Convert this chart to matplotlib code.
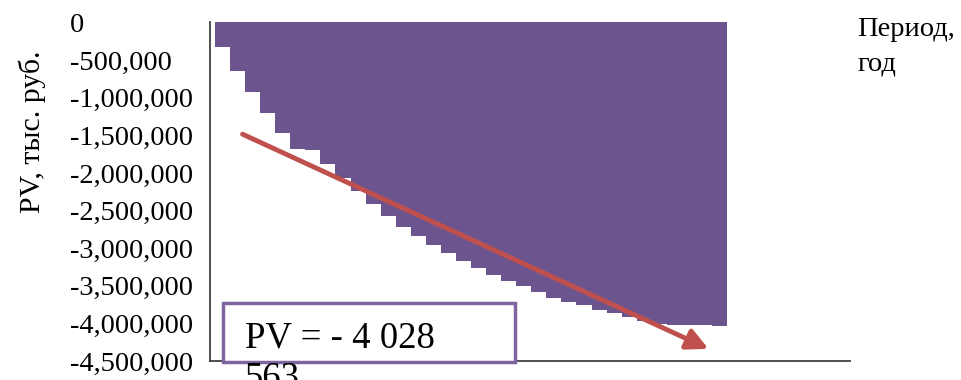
import matplotlib
matplotlib.use('Agg')
import matplotlib.pyplot as plt
from matplotlib.patches import Rectangle
import numpy as np

# cumulative PV by year
years = list(range(1, 35))
pv_values = [-320000, -650000, -927000, -1209000, -1464000, -1678000, -1691000,
             -1882000, -2067000, -2235000, -2411000, -2569000, -2715000, -2834000,
             -2962000, -3058000, -3173000, -3269000, -3358000, -3441000, -3507000,
             -3587000, -3657000, -3710000, -3762000, -3820000, -3864000, -3917000,
             -3970000, -4003000, -4015000, -4020000, -4025000, -4028563]
y_ticks = [0, -500000, -1000000, -1500000, -2000000, -2500000,
           -3000000, -3500000, -4000000, -4500000]
y_label = "PV, тыс. руб."
x_label_lines = ["Период,", "год"]
pv_text_lines = ["PV = - 4 028", "563"]

W, H = 961, 380
serif = 'Liberation Serif'
bar_color = '#6c558e'
arrow_color = '#c0504d'
box_color = '#8064a2'

fig = plt.figure(figsize=(W / 100, H / 100), dpi=100)
ax = fig.add_axes([210 / W, 1 - 361 / H, (850 - 210) / W, (361 - 22.5) / H])

x = np.arange(len(years))
ax.bar(x, pv_values, width=1.0, color=bar_color, linewidth=0, zorder=2)

ax.set_xlim(-0.83, 41.66)
ax.set_ylim(-4500000, 0)
ax.set_xticks([])
ax.set_yticks(y_ticks)
ax.set_yticklabels(['{:,}'.format(v) for v in y_ticks], fontfamily=serif, fontsize=20.5)
ax.tick_params(axis='y', length=0, pad=100.8)
for lab in ax.get_yticklabels():
    lab.set_horizontalalignment('left')

for side in ['top', 'right']:
    ax.spines[side].set_visible(False)
for side in ['left', 'bottom']:
    ax.spines[side].set_color('#404040')
    ax.spines[side].set_linewidth(1.3)

# axis titles
fig.text(32 / W, 1 - 132 / H, y_label, rotation=90, ha='center', va='center',
         fontfamily=serif, fontsize=21.5)
fig.text(857 / W, 1 - 36 / H, x_label_lines[0], ha='left', va='baseline',
         fontfamily=serif, fontsize=20.5)
fig.text(857 / W, 1 - 70 / H, x_label_lines[1], ha='left', va='baseline',
         fontfamily=serif, fontsize=20.5)

# trend arrow
fig.add_artist(matplotlib.patches.FancyArrowPatch(
    (240 / W, 1 - 133 / H), (711 / W, 1 - 350 / H), transform=fig.transFigure,
    arrowstyle='-|>,head_length=8,head_width=4', mutation_scale=1.6,
    color=arrow_color, linewidth=3.5, zorder=5))

# PV text box
box = Rectangle((223 / W, 1 - 362 / H), (515 - 223) / W, (362 - 303) / H,
                transform=fig.transFigure, facecolor='white', edgecolor=box_color,
                linewidth=2.5, zorder=6)
fig.add_artist(box)
fig.text(245 / W, 1 - 347 / H, pv_text_lines[0], ha='left', va='baseline',
         fontfamily=serif, fontsize=26.5, zorder=7)
fig.text(245 / W, 1 - 388 / H, pv_text_lines[1], ha='left', va='baseline',
         fontfamily=serif, fontsize=26.5, zorder=7)

fig.savefig('out.png', dpi=100)
